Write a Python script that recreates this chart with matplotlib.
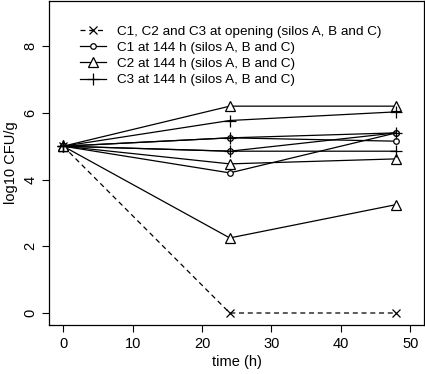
import matplotlib.pyplot as plt
from matplotlib.lines import Line2D

plt.rcParams['font.family'] = ['Liberation Sans', 'DejaVu Sans']

# datos
time_h = [0, 24, 48]
opening = [5.0, 0.0, 0.0]
c1_a = [5.0, 5.25, 5.15]
c1_b = [5.0, 4.85, 5.40]
c1_c = [5.0, 4.20, 5.40]
c2_a = [5.0, 6.20, 6.20]
c2_b = [5.0, 4.47, 4.62]
c2_c = [5.0, 2.25, 3.25]
c3_a = [5.0, 5.77, 6.03]
c3_b = [5.0, 5.25, 5.40]
c3_c = [5.0, 4.85, 4.85]

labels = ["C1, C2 and C3 at opening (silos A, B and C)",
          "C1 at 144 h (silos A, B and C)",
          "C2 at 144 h (silos A, B and C)",
          "C3 at 144 h (silos A, B and C)"]

fig = plt.figure(figsize=(4.25, 3.74), dpi=100)
ax = fig.add_axes([0.116, 0.131, 0.882, 0.867])

lw = 0.9
ms_x, ms_o, ms_t, ms_p = 5.5, 4, 7, 8
ax.plot(time_h, opening, color="black", linestyle=(0, (4, 3)), linewidth=lw,
        marker="x", markersize=ms_x, markeredgewidth=0.9)
for serie in [c1_a, c1_b, c1_c]:
    ax.plot(time_h, serie, color="black", linewidth=lw, marker="o", markersize=ms_o,
            markerfacecolor="white", markeredgewidth=0.9)
for serie in [c2_a, c2_b, c2_c]:
    ax.plot(time_h, serie, color="black", linewidth=lw, marker="^", markersize=ms_t,
            markerfacecolor="white", markeredgewidth=0.9)
for serie in [c3_a, c3_b, c3_c]:
    ax.plot(time_h, serie, color="black", linewidth=lw, marker="+", markersize=ms_p,
            markeredgewidth=0.9)

ax.set_xlim(-2, 52)
ax.set_ylim(-0.36, 9.36)
ax.set_xticks([0, 10, 20, 30, 40, 50])
ax.set_yticks([0, 2, 4, 6, 8])
ax.tick_params(labelsize=10.5, length=5, width=0.8)
for lbl in ax.get_yticklabels():
    lbl.set_rotation(90)
    lbl.set_va("center")
for s in ax.spines.values():
    s.set_linewidth(0.9)
ax.set_xlabel("time (h)", fontsize=10.5, labelpad=3)
ax.set_ylabel("log10 CFU/g", fontsize=10.5, labelpad=4)

handles = [
    Line2D([], [], color="black", linestyle=(0, (4, 3)), linewidth=lw, marker="x",
           markersize=ms_x, markeredgewidth=0.9),
    Line2D([], [], color="black", linewidth=lw, marker="o", markersize=ms_o,
           markerfacecolor="white", markeredgewidth=0.9),
    Line2D([], [], color="black", linewidth=lw, marker="^", markersize=ms_t,
           markerfacecolor="white", markeredgewidth=0.9),
    Line2D([], [], color="black", linewidth=lw, marker="+", markersize=ms_p,
           markeredgewidth=0.9),
]
ax.legend(handles, labels, loc="upper left", bbox_to_anchor=(0.068, 0.94),
          frameon=False, fontsize=9.7, handlelength=1.9, handletextpad=0.85,
          labelspacing=0.27, borderaxespad=0)

plt.savefig("out.png", dpi=100)
